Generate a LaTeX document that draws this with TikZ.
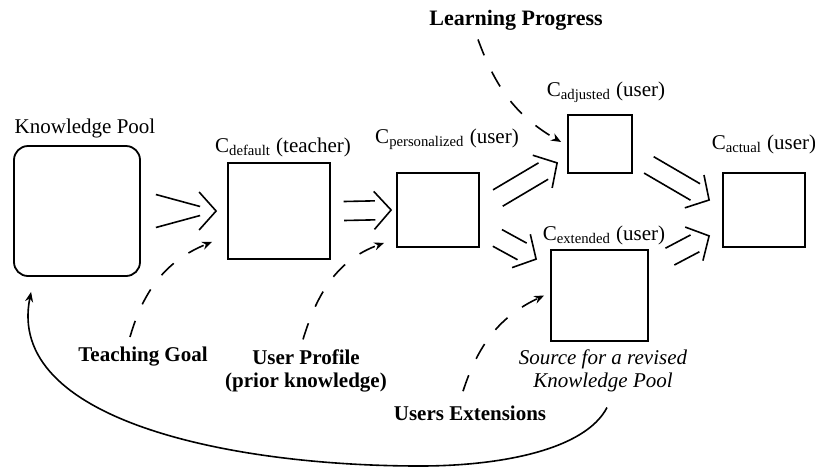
\documentclass[tikz,border=0pt]{standalone}
\usepackage{fontspec}
\setmainfont{Liberation Serif}
\usetikzlibrary{arrows.meta, calc, positioning}

\begin{document}
\begin{tikzpicture}[x=0.5pt, y=-0.5pt,
  font=\fontsize{10.5pt}{11.5pt}\selectfont,
  box/.style={draw, line width=0.9pt, inner sep=0pt},
  lab/.style={inner sep=2pt, align=center},
  tag/.style={lab, font=\fontsize{10.5pt}{11.5pt}\selectfont\bfseries},
  shaft in/.store in=\shaftin, shaft out/.store in=\shaftout,
  flow/.style={line width=0.8pt, shaft in=4.75pt, shaft out=4.75pt,
    to path={let \p1=(\tikztostart), \p2=(\tikztotarget),
      \n1={atan2(\y2-\y1,\x2-\x1)} in
      ($(\p1)+(\n1+90:\shaftin)$) -- ($(\p2)+(\n1+180:8pt)+(\n1+90:\shaftout)$)
      ($(\p1)+(\n1-90:\shaftin)$) -- ($(\p2)+(\n1+180:8pt)+(\n1-90:\shaftout)$)
      ($(\p2)+(\n1+180:8.5pt)+(\n1+90:9.5pt)$) -- (\p2) -- ($(\p2)+(\n1+180:8.5pt)+(\n1-90:9.5pt)$)}},
  hint/.style={line width=0.8pt, dash pattern=on 8.5pt off 9pt, -{Stealth[length=5pt,width=4pt]}},
  back/.style={line width=0.8pt, -{Stealth[length=5pt,width=4pt]}}]
  \useasboundingbox (0,0) rectangle (815,468);

  % boxes
  \node[box, rounded corners=7pt, minimum width=63pt, minimum height=65pt] (kp) at (77,211) {};
  \node[box, minimum width=51pt, minimum height=48pt] (def) at (279,211) {};
  \node[box, minimum width=41pt, minimum height=37pt] (pers) at (438,210) {};
  \node[box, minimum width=32pt, minimum height=29pt] (adj) at (600,144) {};
  \node[box, minimum width=48.5pt, minimum height=45.5pt] (ext) at (599.5,295.5) {};
  \node[box, minimum width=41pt, minimum height=37pt] (act) at (764,210) {};

  % labels
  \node[lab] (kplab) at (85,128) {Knowledge Pool};
  \node[lab] (deflab) at (283,147) {C\textsubscript{default} (teacher)};
  \node[lab] (perslab) at (447,139) {C\textsubscript{personalized} (user)};
  \node[lab] (adjlab) at (606,92) {C\textsubscript{adjusted} (user)};
  \node[lab] (extlab) at (604,235) {C\textsubscript{extended} (user)};
  \node[lab] (actlab) at (764,144) {C\textsubscript{actual} (user)};
  \node[tag, font=\fontsize{11pt}{12pt}\selectfont\bfseries] (lp) at (516,20) {Learning Progress};
  \node[tag] (tg) at (143,357) {Teaching Goal};
  \node[tag] (up) at (306,371) {User Profile\\(prior knowledge)};
  \node[tag] (ue) at (470,413) {Users Extensions};
  \node[lab, font=\fontsize{10.5pt}{11.5pt}\selectfont\itshape] (src) at (603,371) {Source for a revised\\Knowledge Pool};

  % main flow
  \draw[flow, shaft in=8.25pt, shaft out=2.25pt] ([xshift=7.5pt]kp.east) to ([xshift=-5.5pt]def.west);
  \draw[flow] ([xshift=6.5pt]def.east) to ([xshift=-2.5pt]pers.west);
  \draw[flow] ([shift={(9pt,6pt)}]pers.east) to ([shift={(-5pt,5.5pt)}]adj.south west);
  \draw[flow] ([shift={(8.75pt,5pt)}]pers.south east) to ([shift={(-7pt,-5pt)}]ext.north west);
  \draw[flow] ([shift={(8pt,4.5pt)}]adj.south east) to ([shift={(-6.5pt,5pt)}]act.west);
  \draw[flow] ([shift={(10.5pt,-3.75pt)}]ext.north east) to ([shift={(-6.5pt,6pt)}]act.south west);

  % influences
  \draw[hint] ([shift={(-6.5pt,3pt)}]tg.north) to[out=74, in=202] ([shift={(-7.5pt,9pt)}]def.south west);
  \draw[hint] ([shift={(-1.5pt,3pt)}]up.north) to[out=73, in=200] ([shift={(-6pt,2.5pt)}]pers.south west);
  \draw[hint] ([shift={(-3.5pt,5pt)}]ue.north) to[out=72, in=205] ([xshift=-3pt]ext.west);
  \draw[hint] ([shift={(-19pt,-2.5pt)}]lp.south) to[out=-70, in=150] ([shift={(-3pt,1pt)}]adj.west);

  % feedback
  \draw[back] ([shift={(2pt,-5.5pt)}]src.south) .. controls (585,450) and (500,466) .. (420,466)
    .. controls (230,466) and (5,420) .. ([shift={(9pt,-7.5pt)}]kp.south west);
\end{tikzpicture}
\end{document}
